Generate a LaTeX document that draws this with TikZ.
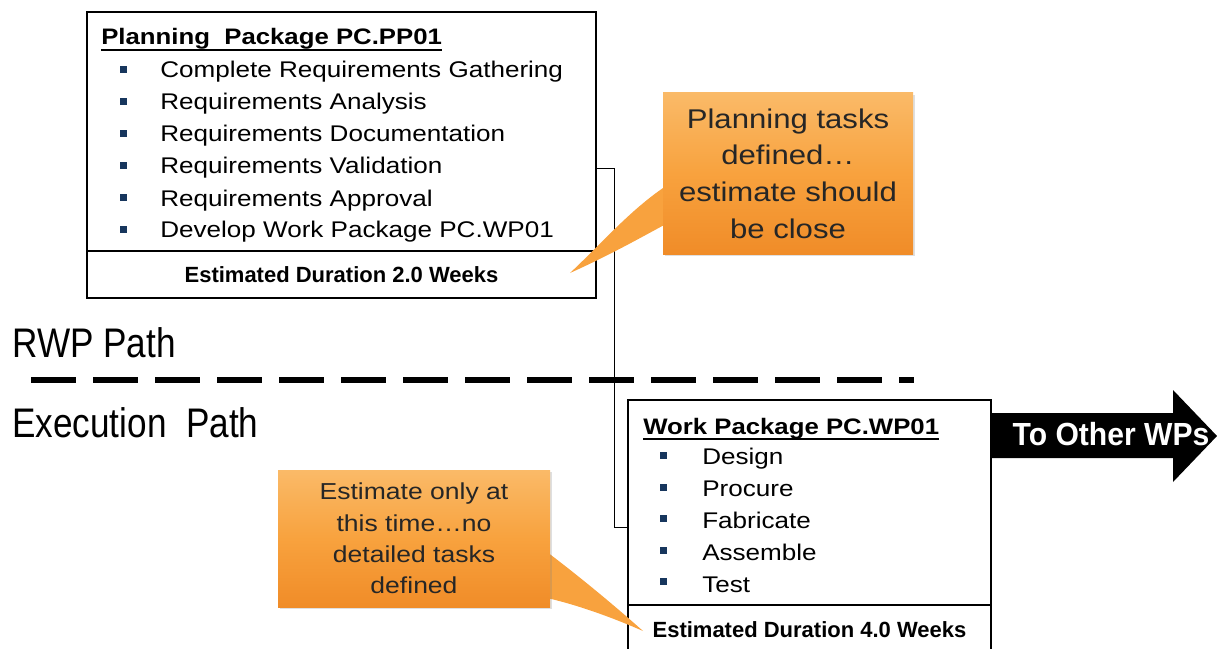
\documentclass[tikz,border=0pt]{standalone}
\usepackage{fontspec}
\setmainfont{Liberation Sans}
\newfontfamily\wideface{Liberation Sans}[FakeStretch=1.15]
\newfontfamily\narrowface{Liberation Sans}[FakeStretch=0.85]
\newfontfamily\arrowface{Liberation Sans}[FakeStretch=0.94]
\usetikzlibrary{shadows}
\definecolor{bulletblue}{RGB}{23,54,93}
\definecolor{calloutlight}{RGB}{250,186,104}
\definecolor{calloutmid}{RGB}{248,162,62}
\definecolor{calloutdark}{RGB}{240,140,40}

\begin{document}
\begin{tikzpicture}[x=0.75pt,y=-0.75pt,
  pkgbox/.style={draw,line width=1.2pt,inner sep=0},
  bulletsq/.style={fill=bulletblue,inner sep=0,minimum size=5.25pt},
  itemtext/.style={inner sep=0,anchor=base west,font=\wideface\fontsize{17}{20}\selectfont},
  titletext/.style={inner sep=0,anchor=base west,font=\wideface\bfseries\fontsize{16.8}{20}\selectfont},
  durtext/.style={inner sep=0,anchor=base,font=\bfseries\fontsize{16.5}{19}\selectfont},
  pathtext/.style={inner sep=0,anchor=base west,font=\narrowface\fontsize{31}{36}\selectfont},
  callout/.style={inner sep=0,align=center,text=black!85,top color=calloutlight,bottom color=calloutdark,middle color=calloutmid,
    drop shadow={opacity=0.25,shadow xshift=1.5pt,shadow yshift=-1.5pt}},
  pointer/.style={fill=calloutmid}]
\useasboundingbox (0,0) rectangle (1217,649);
\clip (0,0) rectangle (1217,649);

\node[pkgbox,minimum width=381.75pt,minimum height=214.5pt] (pp) at (341.5,155) {};
\node[pkgbox,minimum width=381.75pt,minimum height=35.25pt] (ppfoot) at (341.5,274.5) {};
\node[titletext] (ppt) at (101,45) {Planning\ \ Package PC.PP01};
\draw[line width=1.3pt] ([yshift=-4pt]ppt.base west) -- ([yshift=-4pt]ppt.base east);
\foreach \txt [count=\i] in {Complete Requirements Gathering,Requirements Analysis,Requirements Documentation,
  Requirements Validation,Requirements Approval,Develop Work Package PC.WP01} {
  \node[bulletsq] (ppb\i) at (123,37.5+32*\i) {};
  \node[itemtext] (ppi\i) at (160,46+32*\i) {\txt};
}
\node[durtext] (ppdur) at (341.5,282) {Estimated Duration 2.0 Weeks};

\node[pkgbox,minimum width=272.25pt,minimum height=195pt] (wp) at (809.5,530) {};
\node[pkgbox,minimum width=272.25pt,minimum height=41.25pt] (wpfoot) at (809.5,632.5) {};
\node[titletext] (wpt) at (643,434) {Work Package PC.WP01};
\draw[line width=1.3pt] ([yshift=-4pt]wpt.base west) -- ([yshift=-4pt]wpt.base east);
\foreach \txt [count=\i] in {Design,Procure,Fabricate,Assemble,Test} {
  \node[bulletsq] (wpb\i) at (663,424+31.5*\i) {};
  \node[itemtext] (wpi\i) at (702,432+32*\i) {\txt};
}
\node[durtext] (wpdur) at (809.5,637) {Estimated Duration 4.0 Weeks};

\coordinate (ppout) at (596,168);
\coordinate (wpin) at (628,527);
\draw[line width=0.6pt] (ppout) -- ++(18,0) |- (wpin);

\node[pathtext] (rwp) at (12,357) {RWP Path};
\node[pathtext] (exe) at (12,437) {Execution\ \ Path};
\draw[line width=4.5pt,dash pattern=on 33.75pt off 12.75pt] (31,380) -- (914,380);

\fill (991,413) -- (1173,413) -- (1173,390) -- (1217,436) -- (1173,482) -- (1173,458) -- (991,458) -- cycle;
\node[inner sep=0,anchor=base,text=white,font=\arrowface\bfseries\fontsize{24}{28}\selectfont] (towps) at (1111,445) {To Other WPs};

\fill[pointer] (666,186) .. controls (630,210) and (600,245) .. (570,273) .. controls (610,255) and (640,238) .. (666,224) -- cycle;
\node[callout,minimum width=187.5pt,minimum height=120.75pt,font=\wideface\fontsize{20.3}{27.5}\selectfont] (pcall) at (788,173.5)
  {Planning tasks\\defined…\\estimate should\\be close};

\fill[pointer] (547,552) .. controls (580,577) and (615,606) .. (643,631) .. controls (618,620) and (582,606) .. (547,598) -- cycle;
\node[callout,minimum width=204pt,minimum height=102.75pt,font=\wideface\fontsize{17.3}{23.6}\selectfont] (ecall) at (414,538.5)
  {Estimate only at\\this time…no\\detailed tasks\\defined};

\end{tikzpicture}
\end{document}
